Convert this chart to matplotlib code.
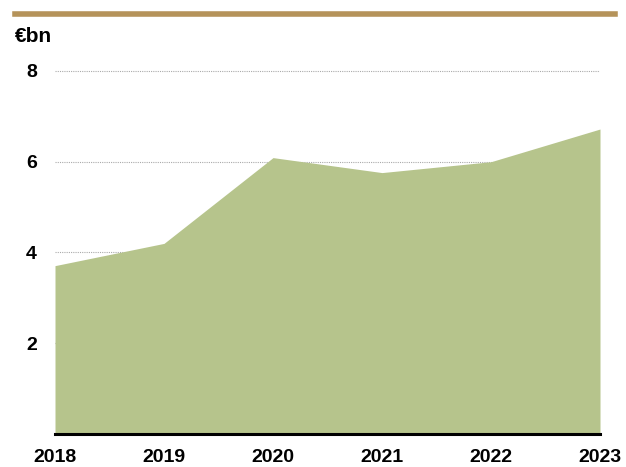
import matplotlib.pyplot as plt
from matplotlib.lines import Line2D

years = [2018, 2019, 2020, 2021, 2022, 2023]
values = [3.71, 4.2, 6.09, 5.76, 6.0, 6.72]
yticks = [2, 4, 6, 8]

plt.rcParams['font.family'] = ['Liberation Sans', 'DejaVu Sans']

fig = plt.figure(figsize=(6.26, 4.67), dpi=100)
ax = fig.add_axes([55/626, 33/467, 545/626, (434-48.25)/467])

ax.fill_between(years, values, 0, color='#b6c48c', linewidth=0, zorder=2)
ax.set_xlim(2018, 2023)
ax.set_ylim(0, 8.5)

for y in yticks:
    ax.axhline(y, color='#aaaaaa', linestyle=(0, (1, 1)), linewidth=0.8, zorder=1)
ax.axhline(0, color='black', linewidth=2.2, zorder=3, clip_on=False)

for s in ax.spines.values():
    s.set_visible(False)
ax.set_yticks(yticks)
ax.set_xticks(years)
ax.tick_params(length=0, labelsize=14)
ax.tick_params(axis='x', pad=11)
ax.tick_params(axis='y', pad=13)
for lab in ax.get_xticklabels() + ax.get_yticklabels():
    lab.set_fontweight('bold')

# gold bar at top
fig.add_artist(Line2D([15/626, 615/626], [1 - 13.5/467, 1 - 13.5/467],
                      color='#b5935a', linewidth=4, transform=fig.transFigure))
fig.text(15/626, 1 - 37/467, '€bn', fontsize=15, fontweight='bold', va='center', ha='left')

fig.savefig('out.png', dpi=100)
